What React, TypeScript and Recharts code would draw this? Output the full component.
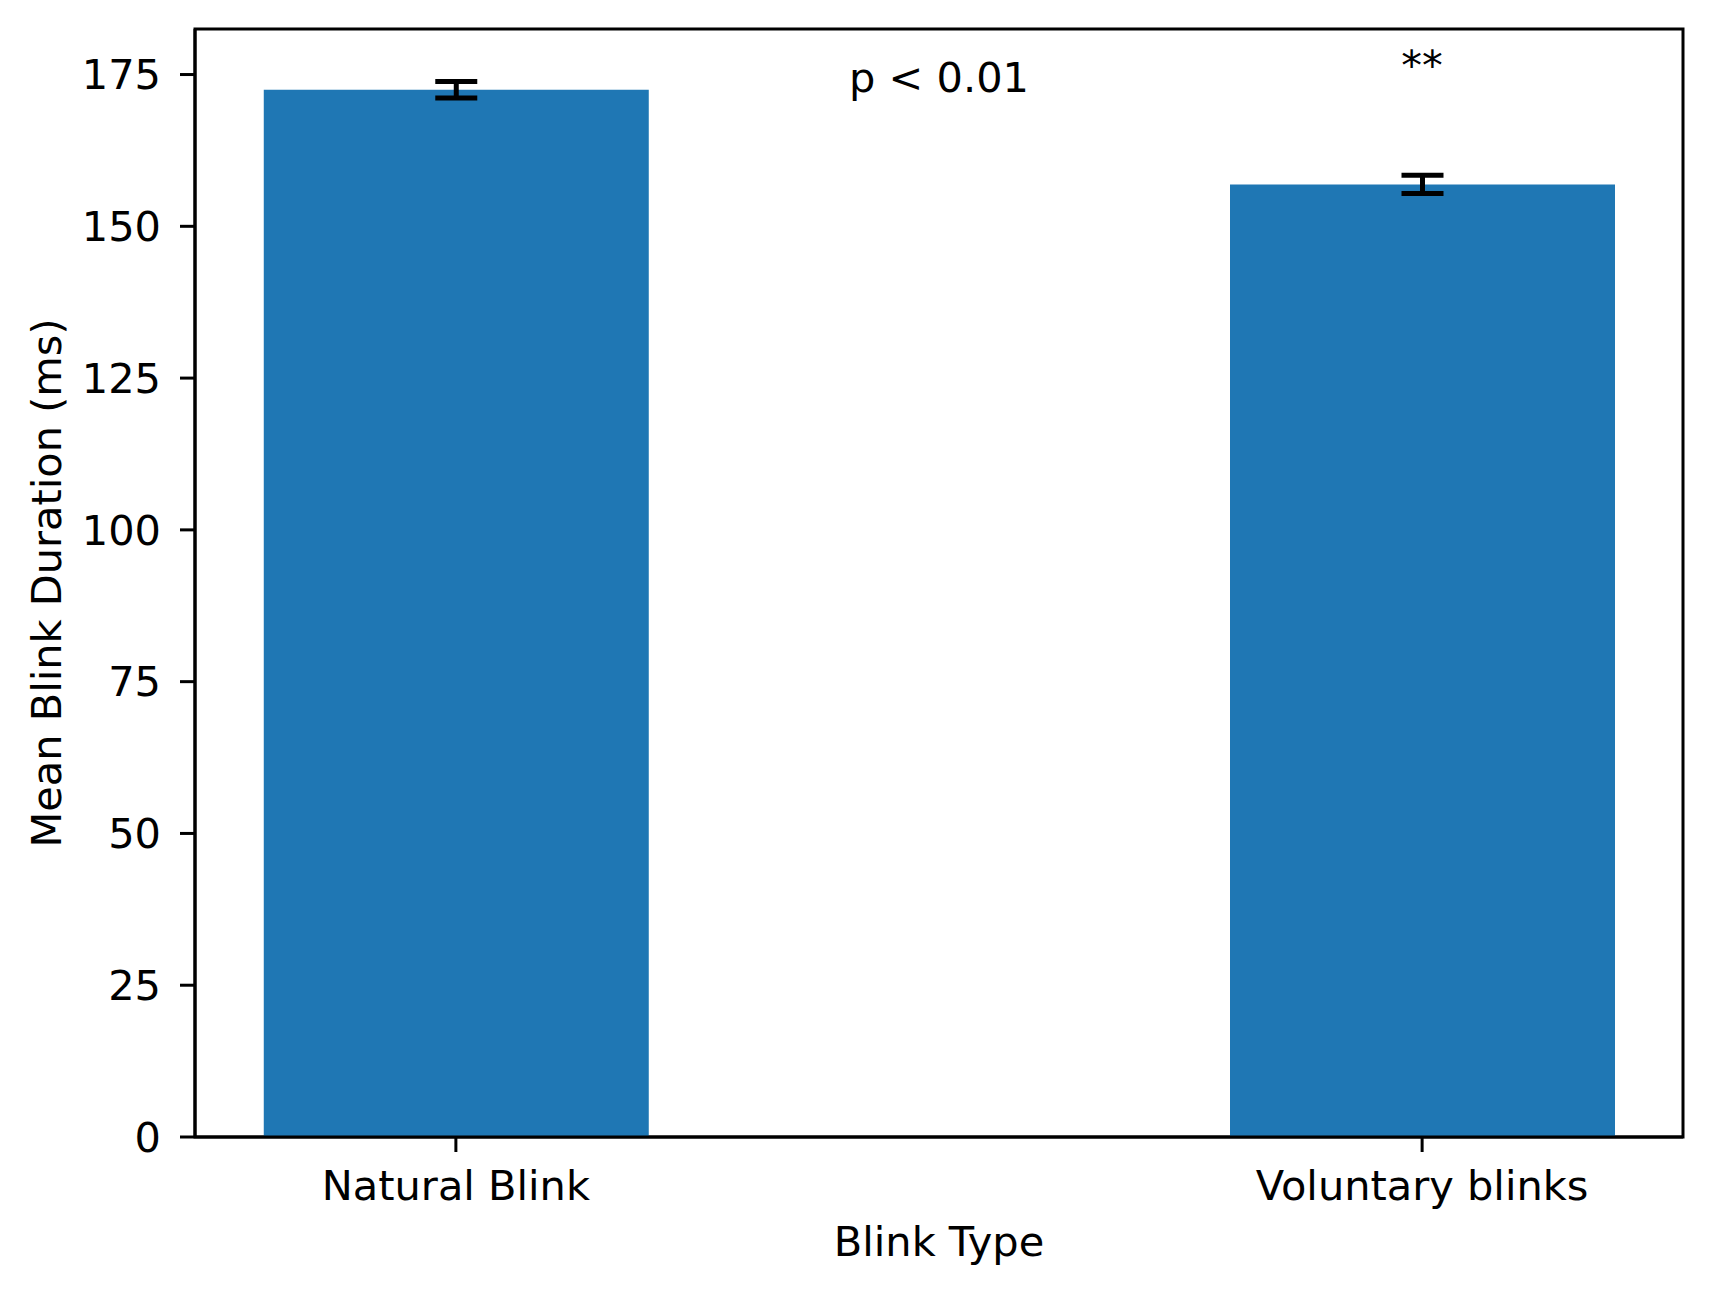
import React from 'react';
import { BarChart, Bar, XAxis, YAxis, ErrorBar, ReferenceArea, ReferenceDot } from 'recharts';

const categories = ['Natural Blink', 'Voluntary blinks'];
const positions = [0, 1];
const means = [172.5, 156.9];
const errors = [1.35, 1.5];
const yTicks = [0, 25, 50, 75, 100, 125, 150, 175];
const annotations = [
  { x: 0.5, y: 174.6, text: 'p < 0.01' },
  { x: 1, y: 176.6, text: '**' },
];

const data = positions.map((p, i) => ({ x: p, name: categories[i], mean: means[i], err: errors[i] }));

const FONT = 'DejaVu Sans, sans-serif';
const FS = 41.5;

export default function App() {
  return (
    <div style={{ width: 1697, height: 1278, background: '#fff' }}>
      <BarChart
        width={1697}
        height={1278}
        data={data}
        margin={{ top: 21, right: 22, left: 0, bottom: 0 }}
        style={{ fontFamily: FONT }}
      >
        <XAxis
          dataKey="x"
          type="number"
          domain={[-0.27, 1.27]}
          ticks={positions}
          tickFormatter={(v: number) => categories[Math.round(v)] ?? ''}
          height={149}
          tickSize={15}
          tickMargin={19}
          axisLine={{ stroke: '#000', strokeWidth: 3 }}
          tickLine={{ stroke: '#000', strokeWidth: 3 }}
          tick={{ fill: '#000', fontSize: FS, fontFamily: FONT }}
          allowDataOverflow
          label={{
            content: (props: any) => {
              const vb = props.viewBox;
              return (
                <text x={vb.x + vb.width / 2} y={vb.y + 104} textAnchor="middle" dominantBaseline="central" fontSize={FS} fontFamily={FONT} fill="#000">
                  Blink Type
                </text>
              );
            },
          }}
        />
        <YAxis
          type="number"
          domain={[0, 182.5]}
          ticks={yTicks}
          width={187}
          tickSize={15}
          tickMargin={19}
          axisLine={{ stroke: '#000', strokeWidth: 3 }}
          tickLine={{ stroke: '#000', strokeWidth: 3 }}
          tick={{ fill: '#000', fontSize: FS, fontFamily: FONT }}
          allowDataOverflow
          label={{
            content: (props: any) => {
              const vb = props.viewBox;
              const cx = 38;
              const cy = vb.y + vb.height / 2;
              return (
                <text x={cx} y={cy} textAnchor="middle" dominantBaseline="central" transform={`rotate(-90 ${cx} ${cy})`} fontSize={FS} fontFamily={FONT} fill="#000">
                  Mean Blink Duration (ms)
                </text>
              );
            },
          }}
        />
        <Bar dataKey="mean" fill="#1f77b4" barSize={385} isAnimationActive={false}>
          <ErrorBar dataKey="err" width={21} stroke="#000" strokeWidth={5} direction="y" />
        </Bar>
        <ReferenceArea x1={-0.27} x2={1.27} y1={0} y2={182.5} fill="none" stroke="#000" strokeWidth={3} ifOverflow="visible" />
        {annotations.map((a) => (
          <ReferenceDot
            key={a.text}
            x={a.x}
            y={a.y}
            r={0}
            fill="none"
            stroke="none"
            ifOverflow="visible"
            label={{ value: a.text, position: 'center', fontSize: FS, fontFamily: FONT, fill: '#000' }}
          />
        ))}
      </BarChart>
    </div>
  );
}
